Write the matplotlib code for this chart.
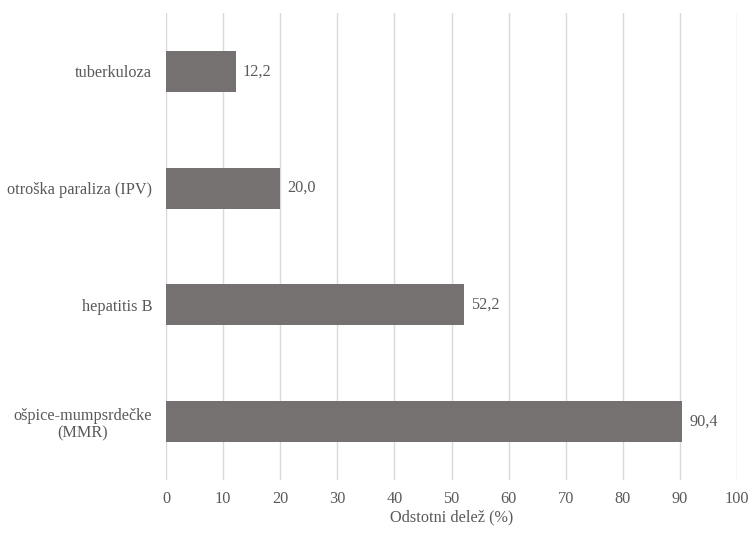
import matplotlib.pyplot as plt

categories = ["tuberkuloza", "otroška paraliza (IPV)", "hepatitis B", "ošpice-mumpsrdečke\n(MMR)"]
values = [12.2, 20.0, 52.2, 90.4]
xticks = list(range(0, 101, 10))

plt.rcParams['font.family'] = ['Liberation Serif', 'DejaVu Serif']

fs = 11.7
fig = plt.figure(figsize=(7.48, 5.39), dpi=100)
ax = fig.add_axes([166/748, 1 - 480/539, (737 - 166)/748, (480 - 13)/539])

bar_color = "#767171"
text_color = "#595959"
pos = list(range(len(categories)))
ax.barh(pos, values, height=0.35, color=bar_color, zorder=3)

for p, v in zip(pos, values):
    ax.text(v + 1.2, p, f"{v:.1f}".replace(".", ","), va="center", ha="left",
            fontsize=fs, color=text_color)

ax.set_xlim(0, 100)
ax.set_ylim(len(categories) - 0.5, -0.5)
ax.set_xticks(xticks)
ax.set_xticklabels([str(t) for t in xticks], fontsize=fs, color=text_color)
ax.set_yticks(pos)
ax.set_yticklabels(categories, fontsize=fs, color=text_color)
ax.tick_params(axis="y", length=0, pad=10)
ax.tick_params(axis="x", length=0, pad=8)
for lbl in ax.get_yticklabels():
    lbl.set_multialignment("center")
    lbl.set_linespacing(1.15)

ax.grid(axis="x", color="#d9d9d9", linewidth=1, zorder=0)
for s in ax.spines.values():
    s.set_visible(False)

ax.set_xlabel("Odstotni delež (%)", fontsize=fs, color=text_color, labelpad=2)

fig.savefig("out.png", dpi=100)
